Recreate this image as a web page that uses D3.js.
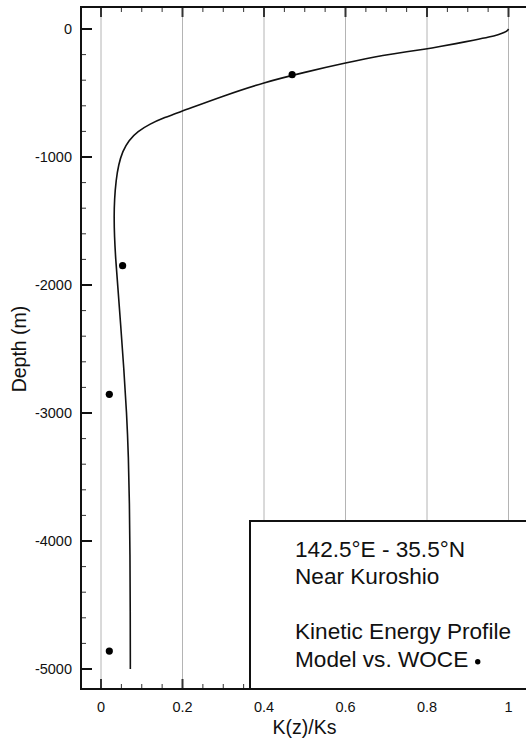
<!DOCTYPE html>
<html><head><meta charset="utf-8">
<script src="https://cdn.jsdelivr.net/npm/d3@7"></script>
<style>html,body{margin:0;padding:0;background:#fff;}svg{display:block;font-family:"Liberation Sans",Arial,Helvetica,sans-serif;}</style>
</head><body>
<script>
// Model profile: K(z)/Ks vs depth (m)
const modelK     = [1.0, 0.998, 0.99, 0.975, 0.955, 0.915, 0.87, 0.83, 0.8, 0.75, 0.7, 0.6, 0.5, 0.4, 0.3, 0.2, 0.155, 0.12, 0.09, 0.068, 0.053, 0.043, 0.037, 0.033, 0.032, 0.033, 0.036, 0.041, 0.048, 0.056, 0.063, 0.0675, 0.0698, 0.0712, 0.0718, 0.072];
const modelDepth = [0, -12, -28, -44, -61, -87, -115, -138, -155, -177, -200, -265, -338, -417, -523, -641, -692, -742, -800, -870, -955, -1060, -1180, -1330, -1470, -1620, -1800, -2000, -2300, -2650, -3000, -3350, -3700, -4100, -4550, -5000];
// WOCE observations
const woceK     = [0.469, 0.053, 0.0204, 0.0204];
const woceDepth = [-357, -1849, -2854, -4860];
// ticks
const xTicks = [0, 0.2, 0.4, 0.6, 0.8, 1];
const xTickLabels = ["0", "0.2", "0.4", "0.6", "0.8", "1"];
const yTicks = [0, -1000, -2000, -3000, -4000, -5000];
const yTickLabels = ["0", "-1000", "-2000", "-3000", "-4000", "-5000"];
const legendLines = ["142.5°E - 35.5°N", "Near Kuroshio", "", "Kinetic Energy Profile", "Model vs. WOCE"];
const xTitle = "K(z)/Ks", yTitle = "Depth (m)";

const W = 526, H = 745;
const L = 81, T = 7, B = 689;
const x = d3.scaleLinear().domain([0, 1]).range([101, 508.5]);
const y = d3.scaleLinear().domain([0, -5000]).range([29, 669]);
const R = 540;

const svg = d3.select("body").append("svg").attr("width", W).attr("height", H);

// grid
svg.append("g").selectAll("line").data(xTicks).join("line")
  .attr("x1", d => x(d)).attr("x2", d => x(d)).attr("y1", T).attr("y2", B)
  .attr("stroke", "#b4b4b4").attr("stroke-width", 1);

// minor ticks
const xMinor = d3.range(0, 1.0001, 0.05).filter(v => Math.abs(v*5 - Math.round(v*5)) > 1e-6);
const yMinor = d3.range(0, -5001, -200).filter(v => v % 1000 !== 0);
const tg = svg.append("g");
tg.selectAll(".xmb").data(xMinor).join("line").attr("x1", d => x(d)).attr("x2", d => x(d)).attr("y1", B).attr("y2", B - 5).attr("stroke", "#333").attr("stroke-width", 1);
tg.selectAll(".xmt").data(xMinor).join("line").attr("x1", d => x(d)).attr("x2", d => x(d)).attr("y1", T).attr("y2", T + 5).attr("stroke", "#333").attr("stroke-width", 1);
tg.selectAll(".ym").data(yMinor).join("line").attr("x1", L).attr("x2", L + 5).attr("y1", d => y(d)).attr("y2", d => y(d)).attr("stroke", "#333").attr("stroke-width", 1);
// major ticks
tg.selectAll(".xMb").data(xTicks).join("line").attr("x1", d => x(d)).attr("x2", d => x(d)).attr("y1", B).attr("y2", B - 10).attr("stroke", "#333").attr("stroke-width", 2);
tg.selectAll(".xMt").data(xTicks).join("line").attr("x1", d => x(d)).attr("x2", d => x(d)).attr("y1", T).attr("y2", T + 10).attr("stroke", "#333").attr("stroke-width", 2);
tg.selectAll(".yM").data(yTicks).join("line").attr("x1", L).attr("x2", L + 11).attr("y1", d => y(d)).attr("y2", d => y(d)).attr("stroke", "#111").attr("stroke-width", 2);

// curve
const pts = modelK.map((k, i) => [k, modelDepth[i]]);
svg.append("path").datum(pts)
  .attr("d", d3.line().x(d => x(d[0])).y(d => y(d[1])).curve(d3.curveBasis))
  .attr("fill", "none").attr("stroke", "#111").attr("stroke-width", 1.6);

// points
svg.append("g").selectAll("circle").data(woceK.map((k, i) => [k, woceDepth[i]])).join("circle")
  .attr("cx", d => x(d[0])).attr("cy", d => y(d[1])).attr("r", 3.6).attr("fill", "#000");

// legend box
svg.append("rect").attr("x", 250).attr("y", 521).attr("width", R - 250).attr("height", B - 521)
  .attr("fill", "#fff").attr("stroke", "#111").attr("stroke-width", 2);
const lgY = [557, 584, 611, 638.5, 666.5];
const lg = svg.append("g").attr("font-size", 22.6).attr("fill", "#111");
legendLines.forEach((s, i) => { if (s) lg.append("text").attr("x", 295).attr("y", lgY[i]).text(s); });
const lastText = lg.selectAll("text").filter((d, i, n) => n[i].textContent === legendLines[4]).node();
const bb = lastText.getBBox();
svg.append("circle").attr("cx", bb.x + bb.width + 9.5).attr("cy", 661.7).attr("r", 2.7).attr("fill", "#000");

// frame
svg.append("line").attr("x1", L).attr("x2", R).attr("y1", T).attr("y2", T).attr("stroke", "#111").attr("stroke-width", 2);
svg.append("line").attr("x1", L).attr("x2", R).attr("y1", B).attr("y2", B).attr("stroke", "#111").attr("stroke-width", 2);
svg.append("line").attr("x1", L).attr("x2", L).attr("y1", T - 1).attr("y2", B + 1).attr("stroke", "#111").attr("stroke-width", 2);

// tick labels
svg.append("g").attr("font-size", 14.5).attr("fill", "#111").attr("text-anchor", "middle")
  .selectAll("text").data(xTicks).join("text").attr("x", d => x(d)).attr("y", 712).text((d, i) => xTickLabels[i]);
svg.append("g").attr("font-size", 14.5).attr("fill", "#111").attr("text-anchor", "end")
  .selectAll("text").data(yTicks).join("text").attr("x", 72).attr("y", d => y(d) + 5).text((d, i) => yTickLabels[i]);

// titles
svg.append("text").attr("x", 304.5).attr("y", 734).attr("text-anchor", "middle").attr("font-size", 19.5).attr("fill", "#111").text(xTitle);
svg.append("text").attr("transform", "translate(26,349) rotate(-90)").attr("text-anchor", "middle").attr("font-size", 19.5).attr("fill", "#111").text(yTitle);
</script>
</body></html>
